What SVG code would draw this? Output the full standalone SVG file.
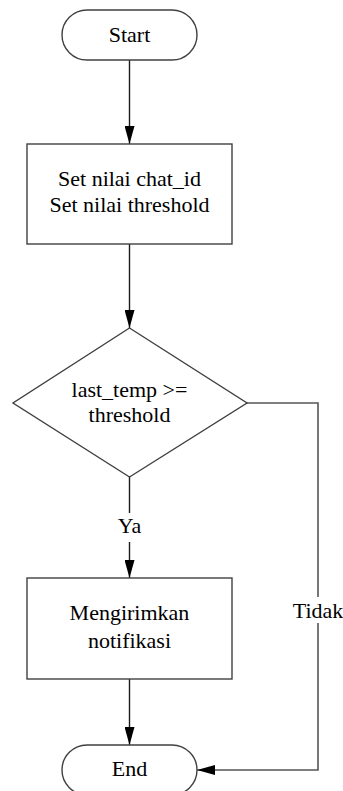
<svg xmlns="http://www.w3.org/2000/svg" width="343" height="791" viewBox="0 0 343 791">
<style>
.shape{fill:#fff;stroke:#404040;stroke-width:1.4}
.conn{fill:none;stroke:#1a1a1a;stroke-width:1.4}
.side{fill:none;stroke:#555;stroke-width:1.6}
.t{font-family:'Liberation Serif','DejaVu Serif',serif;font-size:22px;fill:#000;text-anchor:middle}
</style>
<defs>
<marker id="arrl" viewBox="0 0 18 10" refX="18" refY="5" markerWidth="18" markerHeight="10" markerUnits="userSpaceOnUse" orient="auto">
<path d="M0,0 L18,5 L0,10 z" fill="#000"/>
</marker>
</defs>
<g id="connectors">
<path class="conn" d="M129.5,60 V144" marker-end="url(#arrl)"/>
<path class="conn" d="M129.5,244 V328" marker-end="url(#arrl)"/>
<path class="conn" d="M129.5,477 V513"/>
<path class="conn" d="M129.5,542 V578" marker-end="url(#arrl)"/>
<path class="conn" d="M129.5,679 V745" marker-end="url(#arrl)"/>
<path class="side" d="M247,403 H318 V597"/>
<path class="side" d="M318,623 V770 H197" marker-end="url(#arrl)"/>
<text class="t" x="129.5" y="533">Ya</text>
<text class="t" x="318" y="618">Tidak</text>
</g>
<g id="start">
<rect class="shape" x="62" y="10" width="135" height="50" rx="25" ry="25"/>
<text class="t" x="129.5" y="42">Start</text>
</g>
<g id="set">
<rect class="shape" x="27" y="144" width="205" height="100"/>
<text class="t" x="129.5" y="185.5">Set nilai chat_id</text>
<text class="t" x="129.5" y="212">Set nilai threshold</text>
</g>
<g id="decision">
<polygon class="shape" points="129.5,328 247,403 129.5,477 13,403"/>
<text class="t" x="129.5" y="397">last_temp &gt;=</text>
<text class="t" x="129.5" y="422">threshold</text>
</g>
<g id="notify">
<rect class="shape" x="27" y="578" width="205" height="101"/>
<text class="t" x="129.5" y="620">Mengirimkan</text>
<text class="t" x="129.5" y="648">notifikasi</text>
</g>
<g id="end">
<rect class="shape" x="62" y="745" width="135" height="50" rx="25" ry="25"/>
<text class="t" x="129.5" y="776">End</text>
</g>
</svg>
